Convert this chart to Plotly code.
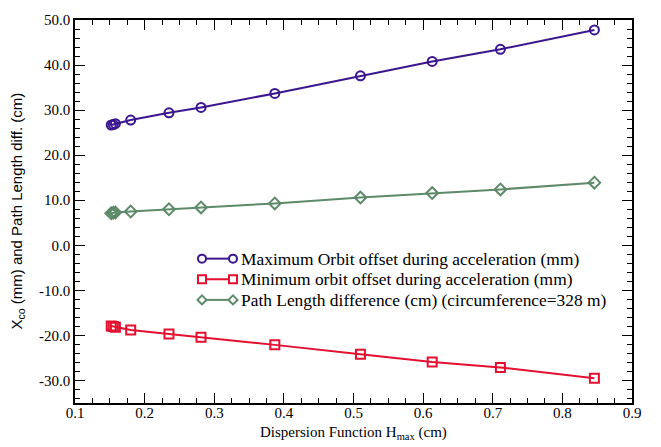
import plotly.graph_objects as go

# Dispersion function H_max (cm) for each lattice configuration
h_max = [0.152, 0.155, 0.158, 0.180, 0.235, 0.281, 0.387, 0.510, 0.613, 0.711, 0.846]

# Orbit offsets during acceleration (mm) and path length difference (cm)
max_orbit = [26.7, 26.8, 27.0, 27.8, 29.4, 30.6, 33.7, 37.6, 40.8, 43.5, 47.8]
min_orbit = [-17.9, -18.0, -18.2, -18.8, -19.7, -20.4, -22.1, -24.2, -25.9, -27.1, -29.5]
path_diff = [7.1, 7.2, 7.3, 7.5, 8.0, 8.4, 9.3, 10.6, 11.6, 12.4, 13.9]

series_names = [
    "Maximum Orbit offset during acceleration (mm)",
    "Minimum orbit offset during acceleration (mm)",
    "Path Length difference (cm) (circumference=328 m)",
]

x_ticks = [0.1, 0.2, 0.3, 0.4, 0.5, 0.6, 0.7, 0.8, 0.9]
y_ticks = [-30, -20, -10, 0, 10, 20, 30, 40, 50]

PURPLE = "#3c168e"
RED = "#e3102f"
GREEN = "#5d8a68"

W, H = 661, 447
ML, MR, MT, MB = 75, 29, 13, 44
PW, PH = W - ML - MR, H - MT - MB

SERIF = "Liberation Serif"
SANS = "Liberation Sans"

fig = go.Figure()

styles = [
    (max_orbit, PURPLE, "circle-open", 9),
    (min_orbit, RED, "square-open", 9),
    (path_diff, GREEN, "diamond-open", 9),
]
for (vals, col, sym, size), name in zip(styles, series_names):
    fig.add_trace(go.Scatter(
        x=h_max, y=vals, mode="lines+markers", name=name,
        line=dict(color=col, width=2),
        marker=dict(symbol=sym, size=size, color=col, line=dict(color=col, width=2)),
        showlegend=False,
    ))


def px_to_paper(px, py):
    return (px - ML) / PW, 1 - (py - MT) / PH


# Hand-drawn legend: a line with a marker on each end, then the label
shapes = []
annotations = []
legend_rows = [(256, PURPLE, "circle"), (277, RED, "square"), (298, GREEN, "diamond")]
x_left, x_right, x_text = 202, 233, 239
for (py, col, kind), name in zip(legend_rows, series_names):
    xa, ya = px_to_paper(x_left, py)
    xb, _ = px_to_paper(x_right, py)
    shapes.append(dict(type="line", xref="paper", yref="paper", x0=xa, x1=xb, y0=ya, y1=ya,
                       line=dict(color=col, width=2)))
    for xc in (xa, xb):
        common = dict(xref="paper", yref="paper", xsizemode="pixel", ysizemode="pixel",
                      xanchor=xc, yanchor=ya, line=dict(color=col, width=2), fillcolor="white")
        if kind == "circle":
            shapes.append(dict(type="circle", x0=-4, x1=4, y0=-4, y1=4, **common))
        elif kind == "square":
            shapes.append(dict(type="rect", x0=-4, x1=4, y0=-4, y1=4, **common))
        else:
            shapes.append(dict(type="path", path="M -4.5 0 L 0 4.5 L 4.5 0 L 0 -4.5 Z", **common))
    xt, yt = px_to_paper(x_text, py)
    annotations.append(dict(text=name, xref="paper", yref="paper", x=xt, y=yt,
                            xanchor="left", yanchor="middle", showarrow=False,
                            font=dict(family=SERIF, size=17.4, color="black")))

# Axis titles
yx, yy = px_to_paper(17, (MT + MT + PH) / 2)
annotations.append(dict(text="X<sub>co</sub> (mm) and Path Length diff. (cm)",
                        xref="paper", yref="paper", x=yx, y=yy, textangle=-90,
                        xanchor="center", yanchor="middle", showarrow=False,
                        font=dict(family=SANS, size=15, color="black")))
xx, xy = px_to_paper(ML + PW / 2, 434)
annotations.append(dict(text="Dispersion Function H<sub>max</sub> (cm)",
                        xref="paper", yref="paper", x=xx, y=xy,
                        xanchor="center", yanchor="middle", showarrow=False,
                        font=dict(family=SERIF, size=15, color="black")))

axis_common = dict(
    showgrid=False, zeroline=False, showline=True, linecolor="black", linewidth=1.5,
    mirror="allticks", ticks="inside", ticklen=10, tickwidth=1.2, tickcolor="black",
    tickfont=dict(family=SERIF, size=15, color="black"),
)

fig.update_xaxes(
    range=[0.1, 0.9], tickvals=x_ticks, ticktext=[f"{v:.1f}" for v in x_ticks],
    minor=dict(dtick=0.025, ticks="inside", ticklen=5, tickwidth=1.2, tickcolor="black"),
    ticklabelstandoff=-5,
    **axis_common,
)
fig.update_yaxes(
    range=[-35, 50], tickvals=y_ticks, ticktext=[f"{v:.1f}" for v in y_ticks],
    minor=dict(dtick=2, tick0=0, ticks="inside", ticklen=5, tickwidth=1.2, tickcolor="black"),
    **axis_common,
)

fig.update_layout(
    width=W, height=H,
    margin=dict(l=ML, r=MR, t=MT, b=MB),
    paper_bgcolor="white", plot_bgcolor="white",
    shapes=shapes, annotations=annotations,
)

fig.write_html("out.html")
